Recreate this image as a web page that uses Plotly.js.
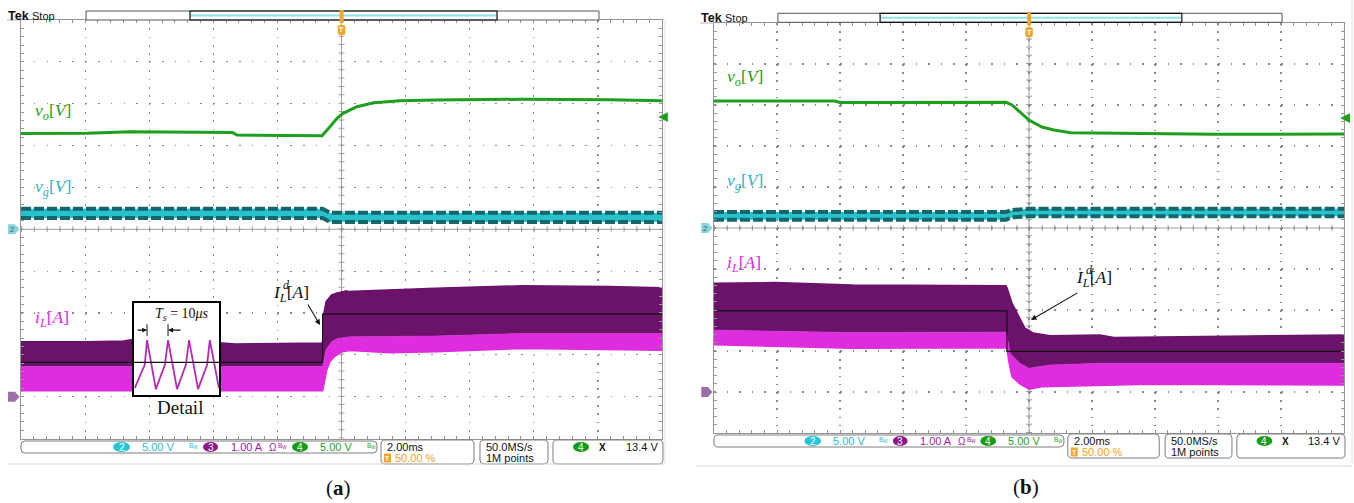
<!DOCTYPE html>
<html><head><meta charset="utf-8">
<script src="https://cdn.plot.ly/plotly-3.0.1.min.js"></script>
<style>html,body{margin:0;padding:0;background:#fff}#chart{width:1354px;height:503px}</style>
</head><body><div id="chart"></div>
<script>
// ---------- oscilloscope channel settings ----------
const timeRangeMs = [-10, 10];          // 2.00 ms/div, trigger at 50 %
const ch2Scale = 5, ch2Offset = 0;      // v_g  : 5.00 V/div
const ch3Scale = 1, ch3Offset = -4;     // i_L  : 1.00 A/div
const ch4Scale = 5, ch4Offset = 0;      // v_o  : 5.00 V/div
const trigLevelV = 13.4;

// ---------- (a) ----------
const a_voT = [-10, -7.94, -6.60, -5.23, -3.40, -3.26, -0.61, -0.36, -0.14, 0.05, 0.48, 1.01, 1.83, 2.92, 5.63, 8.35, 10];
const a_voV = [11.44, 11.46, 11.65, 11.58, 11.55, 11.26, 11.18, 12.25, 13.26, 13.85, 14.64, 15.12, 15.36, 15.44, 15.53, 15.48, 15.36];
const a_vgT  = [-10, -0.59, -0.36, 10];
const a_vgHi = [2.46, 2.46, 1.98, 1.98];
const a_vgLo = [1.34, 1.34, 0.87, 0.87];
const a_iTopT = [-10, -7.94, -6.80, -6.47, -3.82, -3.32, -1.92, -0.61, -0.59, -0.55, -0.48, -0.31, -0.13, 0.16, 0.20, 2.92, 5.63, 8.35, 10];
const a_iTop  = [1.31, 1.31, 1.33, 1.37, 1.29, 1.26, 1.27, 1.28, 1.30, 1.99, 2.27, 2.43, 2.48, 2.53, 2.51, 2.59, 2.65, 2.63, 2.60];
const a_iMidT = [-10, -3.82, -0.61, -0.59, -0.55, -0.48, -0.31, -0.13, 0.27, 2.92, 5.63, 10];
const a_iMid  = [0.72, 0.72, 0.72, 0.72, 0.88, 1.12, 1.31, 1.39, 1.43, 1.45, 1.51, 1.51];
const a_iBotT = [-10, -3.82, -0.61, -0.59, -0.55, -0.46, -0.36, -0.20, 0.01, 0.27, 1.55, 2.92, 5.63, 8.35, 10];
const a_iBot  = [0.14, 0.14, 0.13, 0.14, 0.28, 0.64, 0.84, 0.97, 1.07, 1.10, 1.05, 1.07, 1.15, 1.13, 1.11];
const a_iRefT = [-10, -0.59, 10];
const a_iRef  = [0.82, 1.97, 1.97];
// detail window (inductor current ripple, time in microseconds)
const detailBoxT = [-6.48, -3.82];      // ms, where the window sits
const detailBoxI = [0.04, 2.24];        // A
const detailRangeUs = [0, 40.6];
const detailT = [0.5, 5.2, 6.3, 10.5, 14.8, 16.3, 20.6, 24.8, 26.3, 30.6, 34.9, 36.2, 40.5];
const detailI = [0.21, 0.76, 1.35, 0.18, 0.76, 1.35, 0.18, 0.76, 1.35, 0.18, 0.76, 1.35, 0.21];

// ---------- (b) ----------
const b_voT = [-10, -6.16, -6.00, -0.73, -0.54, -0.29, 0, 0.41, 0.79, 1.33, 2.70, 5.90, 10];
const b_voV = [15.49, 15.49, 15.30, 15.33, 15.00, 14.18, 13.17, 12.32, 11.95, 11.62, 11.55, 11.43, 11.46];
const b_vgT  = [-10, -0.73, -0.54, 0, 10];
const b_vgHi = [1.95, 1.95, 2.20, 2.35, 2.35];
const b_vgLo = [1.01, 1.01, 1.30, 1.43, 1.43];
const b_iTopT = [-10, -8.06, -5.62, -1.33, -0.73, -0.70, -0.54, -0.13, 0.13, 0.67, 2.25, 2.70, 5.43, 10];
const b_iTop  = [2.65, 2.67, 2.61, 2.59, 2.59, 2.55, 2.17, 1.56, 1.44, 1.37, 1.39, 1.33, 1.35, 1.39];
const b_iMidT = [-10, -5.62, -0.73, -0.70, -0.60, -0.29, 0, 0.67, 2.25, 10];
const b_iMid  = [1.51, 1.45, 1.46, 1.40, 0.94, 0.70, 0.58, 0.66, 0.70, 0.70];
const b_iBotT = [-10, -5.62, -0.73, -0.70, -0.63, -0.54, -0.29, 0, 0.41, 1.33, 3.84, 10];
const b_iBot  = [1.15, 1.07, 1.08, 1.05, 0.70, 0.37, 0.20, 0.07, 0.13, 0.15, 0.19, 0.17];
const b_iRefT = [-10, -0.70, 10];
const b_iRef  = [1.98, 0.99, 0.99];

// ---------- geometry / styles ----------
const W = 1354, H = 503;
const PA = {x0: 21, x1: 662, y0: 20, y1: 438.5};
const PB = {x0: 714, x1: 1344, y0: 23, y1: 433};
const SANS = 'Liberation Sans, Arial, sans-serif';
const SERIF = 'Liberation Serif, Times New Roman, serif';
const C = {green: '#1e9f1e', cyan: '#27c2cb', teal: '#15676b', mag: '#de2cde', pur: '#6b136b',
           labCyan: '#2ab6c3', labMag: '#e02ae0', labGreen: '#229d22'};

const toDiv = (arr, s, o) => arr.map(v => v / s + o);
const px = x => x / W, py = y => 1 - y / H;

const traces = [];
function panelTraces(xa, ya, d) {
  traces.push({x: d.vgT, y: toDiv(d.vgLo, ch2Scale, ch2Offset), xaxis: xa, yaxis: ya, mode: 'lines',
               line: {color: C.teal, width: 4, dash: '10px,3px'}});
  traces.push({x: d.vgT, y: toDiv(d.vgHi, ch2Scale, ch2Offset), xaxis: xa, yaxis: ya, mode: 'lines',
               line: {color: C.teal, width: 4, dash: '10px,3px'}, fill: 'tonexty', fillcolor: C.cyan});
  traces.push({x: d.voT, y: toDiv(d.voV, ch4Scale, ch4Offset), xaxis: xa, yaxis: ya, mode: 'lines',
               line: {color: C.green, width: 3}});
  traces.push({x: d.iBotT, y: toDiv(d.iBot, ch3Scale, ch3Offset), xaxis: xa, yaxis: ya, mode: 'lines',
               line: {color: C.mag, width: 1.5}});
  traces.push({x: d.iMidT, y: toDiv(d.iMid, ch3Scale, ch3Offset), xaxis: xa, yaxis: ya, mode: 'lines',
               line: {color: C.mag, width: 0.5}, fill: 'tonexty', fillcolor: C.mag});
  traces.push({x: d.iTopT, y: toDiv(d.iTop, ch3Scale, ch3Offset), xaxis: xa, yaxis: ya, mode: 'lines',
               line: {color: C.pur, width: 1.5}, fill: 'tonexty', fillcolor: C.pur});
}
panelTraces('x', 'y', {vgT: a_vgT, vgHi: a_vgHi, vgLo: a_vgLo, voT: a_voT, voV: a_voV,
  iTopT: a_iTopT, iTop: a_iTop, iMidT: a_iMidT, iMid: a_iMid, iBotT: a_iBotT, iBot: a_iBot});
// detail window
traces.push({x: [detailRangeUs[0], detailRangeUs[1], detailRangeUs[1], detailRangeUs[0]],
             y: [detailBoxI[0], detailBoxI[0], detailBoxI[1], detailBoxI[1]], xaxis: 'x3', yaxis: 'y3',
             mode: 'lines', fill: 'toself', fillcolor: '#ffffff', line: {width: 0}});
traces.push({x: detailT, y: detailI, xaxis: 'x3', yaxis: 'y3', mode: 'lines', line: {color: '#b42cb4', width: 1.8}});
// reference current (a), drawn above the window
traces.push({x: a_iRefT, y: toDiv(a_iRef, ch3Scale, ch3Offset), xaxis: 'x4', yaxis: 'y4', mode: 'lines',
             line: {color: '#111', width: 1.2, shape: 'hv'}});
panelTraces('x2', 'y2', {vgT: b_vgT, vgHi: b_vgHi, vgLo: b_vgLo, voT: b_voT, voV: b_voV,
  iTopT: b_iTopT, iTop: b_iTop, iMidT: b_iMidT, iMid: b_iMid, iBotT: b_iBotT, iBot: b_iBot});
traces.push({x: b_iRefT, y: toDiv(b_iRef, ch3Scale, ch3Offset), xaxis: 'x2', yaxis: 'y2', mode: 'lines',
             line: {color: '#111', width: 1.2, shape: 'hv'}});

// ---------- axes ----------
function gAxis(P, isX, anchor) {
  const domain = isX ? [P.x0 / W, P.x1 / W] : [1 - P.y1 / H, 1 - P.y0 / H];
  const len = isX ? (P.y1 - P.y0) / 50 : (P.x1 - P.x0) / 50;
  return {domain, anchor, range: isX ? timeRangeMs : [-5, 5], showgrid: true, gridcolor: '#8a8a8a', gridwidth: 1.2,
    griddash: '1.6px,' + (len - 1.6).toFixed(2) + 'px', zeroline: false, showline: true, linecolor: '#949494',
    linewidth: 1, mirror: 'ticks', ticks: 'inside', ticklen: 3, tickcolor: '#949494', tickwidth: 1,
    dtick: isX ? 2 : 1, tick0: 0, showticklabels: false, fixedrange: true,
    minor: {dtick: isX ? 0.4 : 0.2, ticks: 'inside', ticklen: 3, tickcolor: '#949494', showgrid: false}};
}
const tA = t => PA.x0 + (t - timeRangeMs[0]) / (timeRangeMs[1] - timeRangeMs[0]) * (PA.x1 - PA.x0);
const dA = d => PA.y0 + (5 - d) / 10 * (PA.y1 - PA.y0);
const boxPx = [tA(detailBoxT[0]), tA(detailBoxT[1])];
const boxPy = [dA(detailBoxI[1] / ch3Scale + ch3Offset), dA(detailBoxI[0] / ch3Scale + ch3Offset)];
const hidden = (domain, range, anchor) => ({domain, range, anchor, visible: false, fixedrange: true});

const layout = {
  width: W, height: H, margin: {l: 0, r: 0, t: 0, b: 0}, paper_bgcolor: '#fff', plot_bgcolor: 'rgba(0,0,0,0)',
  showlegend: false, hovermode: false,
  xaxis: gAxis(PA, true, 'y'), yaxis: gAxis(PA, false, 'x'),
  xaxis2: gAxis(PB, true, 'y2'), yaxis2: gAxis(PB, false, 'x2'),
  xaxis3: {domain: [boxPx[0] / W, boxPx[1] / W], range: detailRangeUs, anchor: 'y3', showline: true, mirror: true,
           linecolor: '#000', linewidth: 1.6, showgrid: false, zeroline: false, showticklabels: false, ticks: '', fixedrange: true},
  yaxis3: {domain: [1 - boxPy[1] / H, 1 - boxPy[0] / H], range: detailBoxI, anchor: 'x3', showline: true, mirror: true,
           linecolor: '#000', linewidth: 1.6, showgrid: false, zeroline: false, showticklabels: false, ticks: '', fixedrange: true},
  xaxis4: hidden([PA.x0 / W, PA.x1 / W], timeRangeMs, 'y4'),
  yaxis4: hidden([1 - PA.y1 / H, 1 - PA.y0 / H], [-5, 5], 'x4'),
  shapes: [], annotations: []
};
const shapes = layout.shapes, ann = layout.annotations;

// ---------- helpers ----------
function txt(x, y, t, o = {}) {
  const font = Object.assign({family: SANS, size: 11, color: '#111'}, o.font || {});
  ann.push(Object.assign({xref: 'paper', yref: 'paper', x: px(x), y: py(y), text: t, showarrow: false,
    xanchor: 'left', yanchor: 'middle'}, o, {font}));
}
function line(x0, y0, x1, y1, color, width, dash) {
  shapes.push({type: 'line', xref: 'paper', yref: 'paper', x0: px(x0), y0: py(y0), x1: px(x1), y1: py(y1),
    line: {color, width, dash: dash || 'solid'}});
}
function rect(x0, y0, x1, y1, fill, lc, lw) {
  shapes.push({type: 'rect', xref: 'paper', yref: 'paper', x0: px(x0), y0: py(y0), x1: px(x1), y1: py(y1),
    fillcolor: fill || 'rgba(0,0,0,0)', line: {color: lc || 'rgba(0,0,0,0)', width: lw || 0}});
}
function rrect(x0, y0, x1, y1, r, lc, fill) {
  const p = (x, y) => px(x).toFixed(6) + ',' + py(y).toFixed(6);
  const d = `M${p(x0 + r, y0)} L${p(x1 - r, y0)} Q${p(x1, y0)} ${p(x1, y0 + r)} L${p(x1, y1 - r)} Q${p(x1, y1)} ${p(x1 - r, y1)} ` +
            `L${p(x0 + r, y1)} Q${p(x0, y1)} ${p(x0, y1 - r)} L${p(x0, y0 + r)} Q${p(x0, y0)} ${p(x0 + r, y0)} Z`;
  shapes.push({type: 'path', xref: 'paper', yref: 'paper', path: d, line: {color: lc || '#7d7d7d', width: lc ? 1 : 0},
    fillcolor: fill || 'rgba(0,0,0,0)'});
}
function oval(x0, y0, x1, y1, color, label) {
  shapes.push({type: 'circle', xref: 'paper', yref: 'paper', x0: px(x0), y0: py(y0), x1: px(x1), y1: py(y1),
    fillcolor: color, line: {width: 0}});
  txt((x0 + x1) / 2, (y0 + y1) / 2, label, {xanchor: 'center', font: {size: 10, color: '#fff'}});
}
function arrow(x, y, ax, ay, color, xref, yref, size, width) {
  ann.push({xref: xref || 'paper', yref: yref || 'paper', x: xref ? x : px(x), y: yref ? y : py(y), ax, ay, text: '',
    showarrow: true, arrowhead: 2, arrowsize: size || 1, arrowwidth: width || 1.1, arrowcolor: color});
}

// ---------- graticule centre lines with cross ticks ----------
function centre(P, xr, yr) {
  const hx = (P.x1 - P.x0) / 50, hy = (P.y1 - P.y0) / 50;
  const base = {xref: xr, yref: yr, layer: 'below', type: 'line'};
  shapes.push(Object.assign({x0: timeRangeMs[0], x1: timeRangeMs[1], y0: 0, y1: 0, line: {color: '#a0a0a0', width: 1}}, base));
  shapes.push(Object.assign({x0: timeRangeMs[0], x1: timeRangeMs[1], y0: 0, y1: 0,
    line: {color: '#a0a0a0', width: 6, dash: '1px,' + (hx - 1).toFixed(2) + 'px'}}, base));
  shapes.push(Object.assign({x0: 0, x1: 0, y0: -5, y1: 5, line: {color: '#a0a0a0', width: 1}}, base));
  shapes.push(Object.assign({x0: 0, x1: 0, y0: -5, y1: 5,
    line: {color: '#a0a0a0', width: 6, dash: '1px,' + (hy - 1).toFixed(2) + 'px'}}, base));
}
centre(PA, 'x', 'y');
centre(PB, 'x2', 'y2');

// ---------- scope chrome (top bar, status bar, markers) ----------
function chrome(mx, dT, dS, P, xr, yr) {
  txt(mx(5.5), 15.5 + dT, '<b>Tek</b>', {font: {size: 12.5}});
  txt(mx(30), 15.5 + dT, 'Stop', {font: {size: 11}});
  line(mx(7), P.y0, P.x0, P.y0, '#b5b5b5', 1);
  rect(mx(86), 11 + dT, mx(599), 20 + dT, '#fff', '#555', 1);
  line(mx(190), 15.5 + dT, mx(497), 15.5 + dT, '#8fe2ea', 2);
  rect(mx(190), 11 + dT, mx(497), 20 + dT, null, '#111', 1.2);
  rect(mx(339.6), 10 + dT, mx(343.6), 23 + dT, '#f4a62a');
  rrect(mx(337.8), 25 + dT, mx(345.4), 35 + dT, 2, null, '#f4a62a');
  txt(mx(341.6), 30 + dT, '<b>T</b>', {xanchor: 'center', font: {size: 7, color: '#fff'}});
  // channel ground markers
  const g2 = P.y0 + (5 - ch2Offset) / 10 * (P.y1 - P.y0);
  const g3 = P.y0 + (5 - ch3Offset) / 10 * (P.y1 - P.y0);
  const pent = (y, fill) => {
    const p = (x, yy) => px(mx(x)).toFixed(6) + ',' + py(yy).toFixed(6);
    shapes.push({type: 'path', xref: 'paper', yref: 'paper', fillcolor: fill, line: {width: 0},
      path: `M${p(8, y - 5)} L${p(15, y - 5)} L${p(19.5, y)} L${p(15, y + 5)} L${p(8, y + 5)} Z`});
  };
  pent(g2, '#86d6dd');
  txt(mx(12.5), g2, '2', {xanchor: 'center', font: {size: 8, color: '#555'}});
  pent(g3, '#9e6fa6');
  // trigger level marker
  arrow(timeRangeMs[1] - 0.12, trigLevelV / ch4Scale + ch4Offset, 8, 0, C.green, xr, yr, 1.3, 1.5);
  // status bar
  rrect(mx(21), 441 + dS, mx(377), 453 + dS, 4, '#7d7d7d');
  oval(mx(113), 442 + dS, mx(130), 452 + dS, '#27c5d3', '2');
  txt(mx(140), 447 + dS, '5.00 V', {font: {color: '#2bbccb'}});
  txt(mx(187), 446 + dS, 'B<sub>W</sub>', {font: {size: 6.5, color: '#2bbccb'}});
  oval(mx(203), 442 + dS, mx(218), 452 + dS, '#8a1a8a', '3');
  txt(mx(229), 447 + dS, '1.00 A', {font: {color: '#9e22a0'}});
  txt(mx(267), 447 + dS, 'Ω', {font: {size: 10, color: '#9e22a0'}});
  txt(mx(276), 446 + dS, 'B<sub>W</sub>', {font: {size: 6.5, color: '#9e22a0'}});
  oval(mx(292), 442 + dS, mx(308), 452 + dS, '#169d16', '4');
  txt(mx(318), 447 + dS, '5.00 V', {font: {color: '#1f9f1f'}});
  txt(mx(365), 446 + dS, 'B<sub>W</sub>', {font: {size: 6.5, color: '#1f9f1f'}});
  rrect(mx(381), 440 + dS, mx(474), 464 + dS, 4, '#7d7d7d');
  txt(mx(385), 447 + dS, '2.00ms');
  rect(mx(384), 453.5 + dS, mx(391), 462.5 + dS, '#f4a62a');
  txt(mx(387.5), 458 + dS, '<b>T</b>', {xanchor: 'center', font: {size: 7, color: '#fff'}});
  txt(mx(393), 458 + dS, '50.00 %', {font: {color: '#f2a02c'}});
  rrect(mx(480), 440 + dS, mx(548), 464 + dS, 4, '#7d7d7d');
  txt(mx(484), 447 + dS, '50.0MS/s');
  txt(mx(484), 458 + dS, '1M points');
  rrect(mx(553), 440 + dS, mx(663), 464 + dS, 4, '#7d7d7d');
  oval(mx(573), 442 + dS, mx(589), 452 + dS, '#169d16', '4');
  txt(mx(597), 447 + dS, '<b>X</b>', {font: {size: 10}});
  txt(mx(660), 447 + dS, '13.4 V', {xanchor: 'right'});
}
const sB = (PB.x1 - PB.x0) / (PA.x1 - PA.x0);
chrome(x => x, 0, 0, PA, 'x', 'y');
chrome(x => PB.x0 + (x - PA.x0) * sB, 2.3, -6, PB, 'x2', 'y2');
// screenshot frames
line(8, 464, 665, 464, '#d9d9d9', 1);
line(665, 20, 665, 464, '#e3e3e3', 1);
line(696, 466, 1352, 466, '#d9d9d9', 1);
line(1352, 0, 1352, 466, '#e3e3e3', 1);

// ---------- trace labels ----------
const lab = (x, y, t, c) => txt(x, y, t, {font: {family: SERIF, size: 17.5, color: c}});
lab(33, 112, '<i>v</i><sub><i>o</i></sub>[<i>V</i>]', C.labGreen);
lab(33, 187, '<i>v</i><sub><i>g</i></sub>[<i>V</i>]', C.labCyan);
lab(33, 318, '<i>i</i><sub><i>L</i></sub>[<i>A</i>]', C.labMag);
lab(725, 77, '<i>v</i><sub><i>o</i></sub>[<i>V</i>]', C.labGreen);
lab(725, 182, '<i>v</i><sub><i>g</i></sub>[<i>V</i>]', C.labCyan);
lab(725, 263, '<i>i</i><sub><i>L</i></sub>[<i>A</i>]', C.labMag);
// I_L^d labels with arrows
function refLabel(x, y) {
  txt(x, y, '<i>I</i><sub><i>L</i></sub>[<i>A</i>]', {font: {family: SERIF, size: 17.5, color: '#111'}});
  txt(x + 9.5, y - 8, '<i>d</i>', {font: {family: SERIF, size: 12, color: '#111'}});
}
refLabel(271, 293);
arrow(320, 325, -13, -22, '#111');
refLabel(1074, 278);
arrow(1031, 320, 48, -28, '#111');

// detail window annotations (period markers on the first two peaks)
const yMark = 1.59;
arrow(detailT[2], yMark, -11, 0, '#111', 'x3', 'y3', 0.9);
arrow(detailT[5], yMark, 14, 0, '#111', 'x3', 'y3', 0.9);
[detailT[2], detailT[5]].forEach(t => shapes.push({type: 'line', xref: 'x3', yref: 'y3', x0: t, x1: t,
  y0: yMark - 0.14, y1: yMark + 0.14, line: {color: '#111', width: 1}}));
txt(182, 314, '<i>T</i><sub><i>s</i></sub> = 10<i>μs</i>', {xanchor: 'center', font: {family: SERIF, size: 14}});
txt(179.5, 407.5, 'Detail', {xanchor: 'center', font: {family: SERIF, size: 19}});

// captions
txt(338, 488, '(<b>a</b>)', {xanchor: 'center', font: {family: SERIF, size: 21}});
txt(1026, 487, '(<b>b</b>)', {xanchor: 'center', font: {family: SERIF, size: 21}});

Plotly.newPlot('chart', traces, layout, {staticPlot: true, displayModeBar: false});
</script>
</body></html>
